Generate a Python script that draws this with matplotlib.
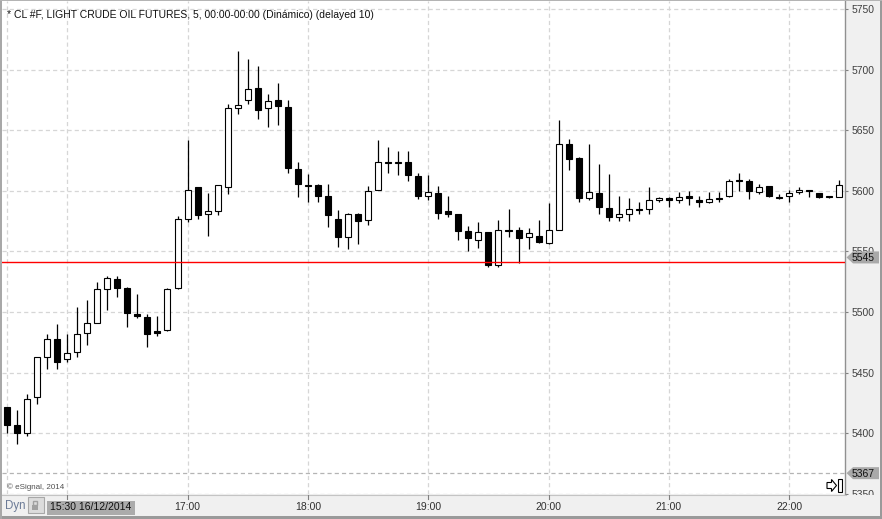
import matplotlib
matplotlib.use('Agg')
import matplotlib.pyplot as plt
from matplotlib.patches import Rectangle, Polygon
from matplotlib.lines import Line2D

plt.rcParams['font.family'] = ['Liberation Sans', 'DejaVu Sans']
plt.rcParams['lines.scale_dashes'] = False

# ---------------- data ----------------
title = "* CL #F, LIGHT CRUDE OIL FUTURES, 5, 00:00-00:00 (Dinámico) (delayed 10)"
start_label = "15:30 16/12/2014"
first_bar = "15:30"
bar_minutes = 5

opens = [5422, 5407, 5400, 5430, 5463, 5478, 5461, 5467, 5483, 5491,
         5519, 5527, 5520, 5498, 5496, 5484, 5485, 5520, 5577, 5603,
         5581, 5583, 5603, 5668, 5675, 5685, 5668, 5675, 5669, 5618,
         5605, 5605, 5596, 5577, 5562, 5581, 5576, 5601, 5624, 5623,
         5624, 5612, 5596, 5598, 5583, 5581, 5567, 5559, 5566, 5539,
         5568, 5568, 5562, 5563, 5557, 5568, 5639, 5627, 5594, 5598,
         5586, 5578, 5581, 5585, 5585, 5592, 5594, 5592, 5596, 5592,
         5591, 5594, 5596, 5609, 5608, 5599, 5604, 5595, 5596, 5599,
         5601, 5598, 5596, 5595]
highs = [5422, 5419, 5432, 5463, 5482, 5490, 5482, 5504, 5510, 5525,
         5530, 5530, 5521, 5515, 5498, 5497, 5520, 5579, 5642, 5603,
         5598, 5605, 5672, 5715, 5709, 5703, 5680, 5689, 5675, 5624,
         5614, 5606, 5606, 5584, 5582, 5582, 5604, 5642, 5636, 5633,
         5633, 5615, 5613, 5604, 5596, 5581, 5571, 5574, 5566, 5576,
         5585, 5570, 5569, 5576, 5590, 5658, 5643, 5628, 5639, 5622,
         5614, 5596, 5594, 5591, 5603, 5595, 5595, 5599, 5600, 5596,
         5599, 5599, 5610, 5615, 5610, 5606, 5604, 5597, 5601, 5603,
         5601, 5598, 5596, 5609]
lows = [5400, 5391, 5398, 5424, 5453, 5453, 5459, 5463, 5473, 5491,
        5502, 5512, 5488, 5495, 5471, 5480, 5484, 5519, 5574, 5577,
        5563, 5580, 5597, 5663, 5672, 5659, 5653, 5654, 5615, 5595,
        5591, 5591, 5570, 5554, 5552, 5556, 5572, 5601, 5615, 5613,
        5608, 5593, 5592, 5577, 5578, 5559, 5550, 5553, 5537, 5537,
        5562, 5540, 5552, 5557, 5556, 5568, 5617, 5591, 5592, 5581,
        5575, 5575, 5575, 5581, 5581, 5591, 5587, 5590, 5588, 5587,
        5590, 5591, 5595, 5600, 5593, 5597, 5595, 5593, 5591, 5597,
        5595, 5594, 5594, 5595]
closes = [5407, 5400, 5428, 5463, 5478, 5459, 5466, 5482, 5491, 5519,
          5528, 5520, 5499, 5497, 5482, 5483, 5519, 5577, 5601, 5580,
          5583, 5605, 5668, 5671, 5684, 5667, 5674, 5670, 5619, 5606,
          5604, 5596, 5580, 5562, 5581, 5575, 5600, 5624, 5623, 5624,
          5613, 5596, 5599, 5582, 5581, 5567, 5561, 5566, 5539, 5568,
          5567, 5561, 5565, 5558, 5568, 5639, 5626, 5594, 5599, 5587,
          5578, 5581, 5585, 5584, 5592, 5594, 5592, 5595, 5594, 5591,
          5593, 5593, 5608, 5608, 5600, 5603, 5596, 5594, 5598, 5601,
          5600, 5595, 5595, 5605]

price_ticks = [5350, 5400, 5450, 5500, 5550, 5600, 5650, 5700, 5750]
grid_times = ["15:30", "16:00", "17:00", "18:00", "19:00", "20:00", "21:00", "22:00"]
time_labels = ["17:00", "18:00", "19:00", "20:00", "21:00", "22:00"]
hline_price = 5541
tag_prices = [5545, 5367]
dashed_level = 5367
copyright_text = "© eSignal, 2014"

# ---------------- figure ----------------
W, H = 882, 519
fig = plt.figure(figsize=(W / 100, H / 100), dpi=100, facecolor='#f0f0f0')

def P(x, y):
    return (x / W, 1 - y / H)

ax = fig.add_axes([2 / W, 1 - 494 / H, (845 - 2) / W, (494 - 1) / H])
ax.set_facecolor('white')

def t_index(s):
    h, m = map(int, s.split(':'))
    h0, m0 = map(int, first_bar.split(':'))
    return ((h * 60 + m) - (h0 * 60 + m0)) / bar_minutes

n = len(opens)
idx = list(range(n))

# wicks
ax.vlines(idx, lows, highs, color='black', linewidth=0.9, zorder=3)
# bodies
bottoms, heights, faces = [], [], []
for o, c in zip(opens, closes):
    lo, hi = min(o, c), max(o, c)
    h = max(hi - lo, 1.0)
    bottoms.append(lo if hi - lo >= 1.0 else (lo + hi) / 2 - 0.5)
    heights.append(h)
    faces.append('white' if c > o else 'black')
ax.bar(idx, heights, bottom=bottoms, width=0.6, color=faces,
       edgecolor='black', linewidth=0.8, zorder=4)

ax.set_xlim(-0.5, 83.55)
ax.set_ylim(5349.8, 5756.6)

# grid
grid_kw = dict(color='#d6d6d6', linewidth=0.9, linestyle=(0, (3.0, 2.2)), zorder=1)
for p in price_ticks:
    ax.axhline(p, **grid_kw)
for t in grid_times:
    ax.axvline(t_index(t), **grid_kw)
ax.axhline(dashed_level, color='#b4b4b4', linewidth=0.9, linestyle=(0, (3.0, 2.2)), zorder=1)
ax.axhline(hline_price, color='#ff0000', linewidth=1.0, zorder=5)

# axes styling
for s in ['left', 'top', 'bottom']:
    ax.spines[s].set_visible(False)
ax.spines['right'].set_color('#909090')
ax.spines['right'].set_linewidth(1.0)
ax.set_xticks([])
ax.yaxis.tick_right()
ax.set_yticks(price_ticks)
ax.set_yticklabels([str(p) for p in price_ticks])
ax.tick_params(axis='y', right=True, left=False, length=2.5, width=0.8,
               color='#808080', labelcolor='#404040', labelsize=7.5, pad=2.5)

# title and copyright
ax.text(*P(7, 18.5), title, transform=fig.transFigure, fontsize=7.5,
        color='#101010', va='baseline', ha='left', zorder=6)
fig.text(*P(7, 489.3), copyright_text, fontsize=5.8, color='#505050',
         va='baseline', ha='left')

# bottom panel (drawn above axes)
fig.patches.append(Rectangle(P(0, 516), 880 / W, 21.5 / H, transform=fig.transFigure,
                             facecolor='#f0f0f0', edgecolor='none', zorder=5))
fig.lines.append(Line2D([P(2, 0)[0], P(846, 0)[0]], [P(0, 494.6)[1]] * 2,
                        transform=fig.transFigure, color='#c4c4c4', linewidth=0.8, zorder=6))

fig.canvas.draw()

# bottom tick marks and labels
for t in grid_times[1:]:
    xd = ax.transData.transform((t_index(t), hline_price))[0]
    xf = xd / W
    fig.lines.append(Line2D([xf, xf], [P(0, 495)[1], P(0, 498.5)[1]], transform=fig.transFigure,
                            color='#808080', linewidth=0.8, zorder=6))
for t in time_labels:
    xd = ax.transData.transform((t_index(t), hline_price))[0]
    fig.text(xd / W, P(0, 510.3)[1], t, fontsize=7.5, color='#303030',
             ha='center', va='baseline', zorder=7)

# Dyn + lock + start label
fig.text(*P(5, 508.5), "Dyn", fontsize=8.3, color='#6b7a96', ha='left', va='baseline', zorder=7)
fig.patches.append(Rectangle(P(28, 513), 16 / W, 16 / H, transform=fig.transFigure,
                             facecolor='#dcdcdc', edgecolor='#a8a8a8', linewidth=0.8, zorder=6))
fig.patches.append(Rectangle(P(32, 510), 6 / W, 5 / H, transform=fig.transFigure,
                             facecolor='#a0a0a0', edgecolor='none', zorder=7))
fig.patches.append(Rectangle(P(33, 505), 4 / W, 4 / H, transform=fig.transFigure,
                             facecolor='none', edgecolor='#a0a0a0', linewidth=1.0, zorder=7))
fig.patches.append(Rectangle(P(47, 515), 88 / W, 14.5 / H, transform=fig.transFigure,
                             facecolor='#ababab', edgecolor='none', zorder=6))
fig.text(*P(49.5, 510.3), start_label, fontsize=7.5, color='#101010', ha='left',
         va='baseline', zorder=7)

# price tags on right axis
for pr in tag_prices:
    yd = ax.transData.transform((0, pr))[1]
    yc = H - yd
    pts = [P(846.5, yc), P(853, yc - 6), P(879, yc - 6), P(879, yc + 6), P(853, yc + 6)]
    fig.patches.append(Polygon(pts, closed=True, transform=fig.transFigure,
                               facecolor='#a9a9a9', edgecolor='none', zorder=6))
    fig.text(*P(852, yc), str(pr), fontsize=7.5, color='#101010', ha='left',
             va='center_baseline', zorder=7)

# scroll-to-end icon
arrow = [P(827, 482.5), P(831.5, 482.5), P(831.5, 479.5), P(836.5, 485.5),
         P(831.5, 491.5), P(831.5, 488.5), P(827, 488.5)]
fig.patches.append(Polygon(arrow, closed=True, transform=fig.transFigure,
                           facecolor='white', edgecolor='black', linewidth=0.8, zorder=6))
fig.patches.append(Rectangle(P(838, 492), 3.5 / W, 13 / H, transform=fig.transFigure,
                             facecolor='white', edgecolor='black', linewidth=0.8, zorder=6))

# outer frame
fig.patches.append(Rectangle(P(879.5, 519), 2.5 / W, 1, transform=fig.transFigure,
                             facecolor='#9a9a9a', edgecolor='none', zorder=8))
fig.patches.append(Rectangle(P(0, 519), 1, 3.5 / H, transform=fig.transFigure,
                             facecolor='#9a9a9a', edgecolor='none', zorder=8))
fig.patches.append(Rectangle(P(0, 519), 1.5 / W, 1, transform=fig.transFigure,
                             facecolor='#a8a8a8', edgecolor='none', zorder=8))
fig.patches.append(Rectangle(P(0, 1.2), 1, 1.2 / H, transform=fig.transFigure,
                             facecolor='#b4b4b4', edgecolor='none', zorder=8))

fig.savefig('out.png', dpi=100, facecolor=fig.get_facecolor())
